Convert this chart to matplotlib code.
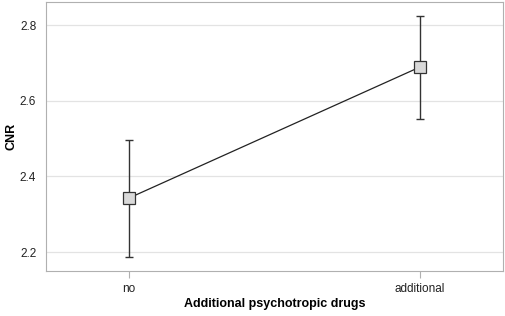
import numpy as np
import matplotlib
matplotlib.use('Agg')
import matplotlib.pyplot as plt

plt.rcParams['font.family'] = ['Liberation Sans', 'DejaVu Sans']

groups = ['no', 'additional']
means = [2.343, 2.689]
upper = [2.497, 2.825]
lower = [2.187, 2.552]

fig = plt.figure(figsize=(5.05, 3.16), dpi=100)
ax = fig.add_axes([46/505, 1-271/316, 457/505, 269/316])

x = np.arange(len(groups))
m = np.array(means)
yerr = [m - np.array(lower), np.array(upper) - m]
ax.errorbar(x, m, yerr=yerr, fmt='none', ecolor='#333333', elinewidth=1, capsize=3.2, capthick=1, zorder=2)
ax.plot(x, m, color='#222222', lw=0.9, zorder=3)
ax.plot(x, m, ls='none', marker='s', ms=8.5, mfc='#d9d9d9', mec='#333333', mew=0.9, zorder=4)

ax.set_xlim(-0.286, 1.286)
ax.set_ylim(2.15, 2.861)
ax.set_yticks([2.2, 2.4, 2.6, 2.8])
ax.set_yticklabels(['2.2', '2.4', '2.6', '2.8'])
ax.set_xticks(x)
ax.set_xticklabels(groups)
ax.grid(axis='y', color='#e3e3e3', lw=0.9)
ax.set_axisbelow(True)
for s in ax.spines.values():
    s.set_color('#b0b0b0')
ax.tick_params(axis='y', length=0, pad=7, labelsize=8.5, colors='#222222')
ax.tick_params(axis='x', length=5, color='#b0b0b0', pad=4, labelsize=8.5, labelcolor='#222222')

ax.set_ylabel('CNR', fontweight='bold', fontsize=9)
ax.set_xlabel('Additional psychotropic drugs', fontweight='bold', fontsize=9)
ax.yaxis.set_label_coords(-0.062, 0.5)
ax.xaxis.set_label_coords(0.5, -0.1)

fig.savefig('out.png', dpi=100)
